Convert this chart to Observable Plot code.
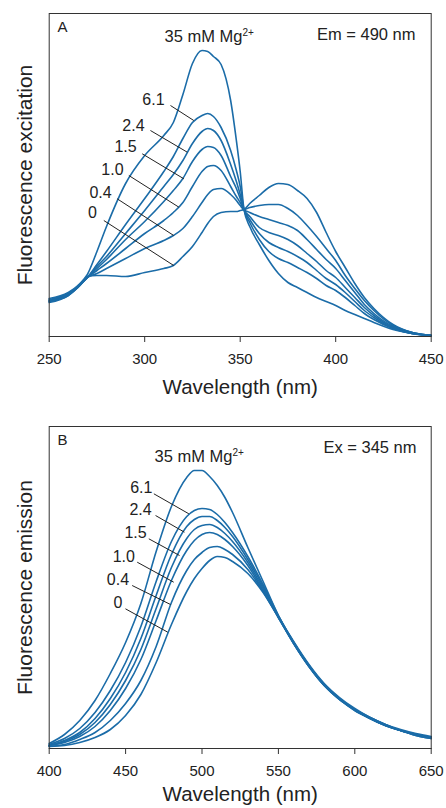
<!DOCTYPE html>
<html><head><meta charset="utf-8">
<script src="https://cdn.jsdelivr.net/npm/d3@7"></script>
<script src="https://cdn.jsdelivr.net/npm/@observablehq/plot@0.6"></script>
<style>
body{margin:0;background:#fff;font-family:"Liberation Sans",Arial,sans-serif;}
#chart svg{display:block;}
</style></head><body><div id="chart"></div>
<script>
// ---- Series keys (mM Mg2+) ----
const mgLevels = ["0","0.4","1.0","1.5","2.4","6.1","35"];

// ---- Panel A: excitation spectra (Em = 490 nm) ----
const exWavelength = [250,260,265,270,275,280,290,300,310,315,320,325,330,333,336,340,345,348,350,352,355,360,365,370,375,380,385,390,395,400,405,410,415,420,430,440,450];
const exMg0  = [34,41,49,60,61,61,60,64,68,71,80,90,104,113,120,124,125,125,126,127,133,141,149,153,152,146,138,124,104,85,69,53,39,28,12,4,1];
const exMg04 = [35,41,49,59,63,68,78,88,96,101,108,120,134,142,147,148,142,136,131,127,129,131,132,132,128,121,111,100,88,76,61,48,36,26,11,4,1];
const exMg10 = [35,42,49,59,66,73,88,103,116,124,134,150,165,170,171,166,150,140,134,127,124,120,117,114,111,106,97,87,77,68,56,44,32,23,10,4,1];
const exMg15 = [36,42,50,59,68,77,97,115,135,146,158,175,187,190,189,181,160,148,138,127,120,109,104,101,97,91,83,75,66,59,49,39,29,21,9,3,1];
const exMg24 = [36,43,50,59,70,80,103,126,150,162,176,193,205,208,206,196,172,155,142,127,117,103,94,89,85,80,74,66,58,52,44,35,26,19,8,3,1];
const exMg61 = [37,43,50,59,72,85,112,138,165,180,198,214,221,223,220,209,186,166,150,127,114,97,85,78,74,69,64,58,51,46,39,31,23,17,8,3,1];
const exMg35 = [38,44,51,62,85,110,153,181,201,214,242,273,286,285,280,272,236,196,165,127,110,92,76,63,54,49,44,39,35,31,26,22,18,14,7,3,1];

// ---- Panel B: emission spectra (Ex = 345 nm) ----
const emWavelength = [400,410,420,430,440,450,460,470,480,490,495,500,505,510,515,520,530,540,550,560,570,580,590,600,610,620,630,640,650];
const emMg0  = [2,3,6,11,19,33,54,86,124,157,170,180,188,192,191,187,175,156,131,105,82,63,49,38,30,23,18,13,10];
const emMg04 = [2,4,9,16,28,45,68,102,146,178,189,196,201,202,199,194,179,157,131,105,82,63,49,38,30,23,18,13,10];
const emMg10 = [3,6,12,22,38,60,89,128,168,198,208,214,216,214,209,202,183,158,131,105,82,63,49,39,30,23,18,14,11];
const emMg15 = [3,7,14,26,44,68,99,140,181,210,219,223,224,221,215,207,186,160,132,106,83,64,50,39,30,23,18,14,11];
const emMg24 = [3,8,16,30,50,76,110,153,194,222,229,232,232,228,221,212,189,162,132,106,83,64,50,39,31,24,18,14,11];
const emMg61 = [4,10,20,36,58,86,122,167,207,232,238,240,239,234,226,216,192,164,133,106,83,64,50,39,31,24,18,14,11];
const emMg35 = [5,14,28,48,75,106,145,197,242,271,278,278,272,263,251,236,201,167,133,107,84,65,51,40,31,24,19,15,12];

// ---- Axis ticks ----
const exTicks = [250,300,350,400,450];
const emTicks = [400,450,500,550,600,650];

// ---- Curve labels (data units) ----
const labelText = ["6.1","2.4","1.5","1.0","0.4","0"];
const exLabelX = [304.6,294.1,290.0,283.1,276.9,272.7];
const exLabelY = [237,210.5,190,167,143.5,123.5];
const exLeadX1 = [313.5,303.0,298.7,291.7,285.6,278.6];
const exLeadY1 = [231,206,182.7,161,137.7,116];
const exLeadX2 = [325.7,322.3,320.5,317.9,315.2,315.2];
const exLeadY2 = [216,184.3,157.7,129.3,101,71];

const emLabelX = [460.3,459.8,456.5,448.8,445.0,445.0];
const emLabelY = [260.5,239,215.5,192,169,145.5];
const emLeadX1 = [468.5,469.6,465.2,457.6,454.3,449.9];
const emLeadY1 = [254.7,233,209.7,186.3,163,139.7];
const emLeadX2 = [491.4,488.5,485.3,481.5,479.4,477.6];
const emLeadY2 = [234.7,216.3,193,166.3,144,116.3];

// ---- Panel notes ----
const exNotes = {panel: "A", top: "35 mM Mg2+", cond: "Em = 490 nm", yLabel: "Fluorescence excitation"};
const emNotes = {panel: "B", top: "35 mM Mg2+", cond: "Ex = 345 nm", yLabel: "Fluorescence emission"};
const exNotePos = {panelX: 254.3, panelY: 309.3, topX: 310.4, topY: 300.2, condX: 441.8, condY: 301.8};
const emNotePos = {panelX: 405.4, panelY: 308, topX: 468.9, topY: 292.2, condX: 640.4, condY: 300.5};

const lineColor = "#1b6ca8";
const inkColor = "#222";

function rowsOf(wl, seriesList) {
  const rows = [];
  seriesList.forEach((vals, i) => {
    vals.forEach((v, j) => rows.push({mg: mgLevels[i], wl: wl[j], v}));
  });
  return rows;
}
function labelsOf(xs, ys) { return labelText.map((t, i) => ({t, x: xs[i], y: ys[i]})); }
function leadsOf(x1, y1, x2, y2) { return x1.map((_, i) => ({x1: x1[i], y1: y1[i], x2: x2[i], y2: y2[i]})); }

function panel(o) {
  return Plot.plot({
    width: 446, height: o.height,
    marginLeft: 48.7, marginRight: 15.3, marginTop: o.marginTop, marginBottom: o.marginBottom,
    x: {domain: o.xDomain},
    y: {domain: o.yDomain, axis: null},
    style: {fontFamily: '"Liberation Sans", Arial, sans-serif', color: inkColor, background: "white"},
    marks: [
      Plot.axisX({ticks: o.ticks, tickSize: 6, tickPadding: 11, fontSize: 15, label: null, stroke: "#333", tickFormat: d => String(d)}),
      Plot.line(o.rows, {x: "wl", y: "v", z: "mg", stroke: lineColor, strokeWidth: 1.6, curve: "monotone-x"}),
      Plot.link(o.leads, {x1: "x1", y1: "y1", x2: "x2", y2: "y2", stroke: inkColor, strokeWidth: 1}),
      Plot.text(o.labels, {x: "x", y: "y", text: "t", fontSize: 16, fill: inkColor}),
      Plot.text([o.notes.panel], {x: () => o.pos.panelX, y: () => o.pos.panelY, text: d => d, textAnchor: "start", fontSize: 15, fill: inkColor}),
      Plot.text([o.notes.top], {x: () => o.pos.topX, y: () => o.pos.topY, text: d => d, textAnchor: "start", fontSize: 16.5, fill: inkColor}),
      Plot.text([o.notes.cond], {x: () => o.pos.condX, y: () => o.pos.condY, text: d => d, textAnchor: "end", fontSize: 16.5, fill: inkColor}),
      Plot.text([o.notes.yLabel], {frameAnchor: "left", dx: -24, rotate: -90, textAnchor: "middle", lineAnchor: "middle", text: d => d, fontSize: 21, fill: inkColor}),
      Plot.text(["Wavelength (nm)"], {frameAnchor: "bottom", dy: o.xLabelDy, textAnchor: "middle", lineAnchor: "middle", text: d => d, fontSize: 20.5, fill: inkColor}),
      Plot.frame({stroke: "#333", strokeWidth: 1})
    ]
  });
}

const svgA = panel({
  height: 400, marginTop: 13, marginBottom: 64, xLabelDy: 51,
  xDomain: [250, 450], yDomain: [0, 323], ticks: exTicks,
  rows: rowsOf(exWavelength, [exMg0, exMg04, exMg10, exMg15, exMg24, exMg61, exMg35]),
  labels: labelsOf(exLabelX, exLabelY),
  leads: leadsOf(exLeadX1, exLeadY1, exLeadX2, exLeadY2),
  notes: exNotes, pos: exNotePos
});
const svgB = panel({
  height: 408, marginTop: 26, marginBottom: 60, xLabelDy: 46,
  xDomain: [400, 650], yDomain: [0, 322], ticks: emTicks,
  rows: rowsOf(emWavelength, [emMg0, emMg04, emMg10, emMg15, emMg24, emMg61, emMg35]),
  labels: labelsOf(emLabelX, emLabelY),
  leads: leadsOf(emLeadX1, emLeadY1, emLeadX2, emLeadY2),
  notes: emNotes, pos: emNotePos
});

for (const svg of [svgA, svgB]) {
  d3.select(svg).selectAll("text").each(function() {
    if (this.textContent === "35 mM Mg2+") {
      this.textContent = "35 mM Mg";
      d3.select(this).append("tspan").attr("font-size", 10).attr("dy", "-0.55em").text("2+");
    }
  });
  document.getElementById("chart").appendChild(svg);
}
</script></body></html>
